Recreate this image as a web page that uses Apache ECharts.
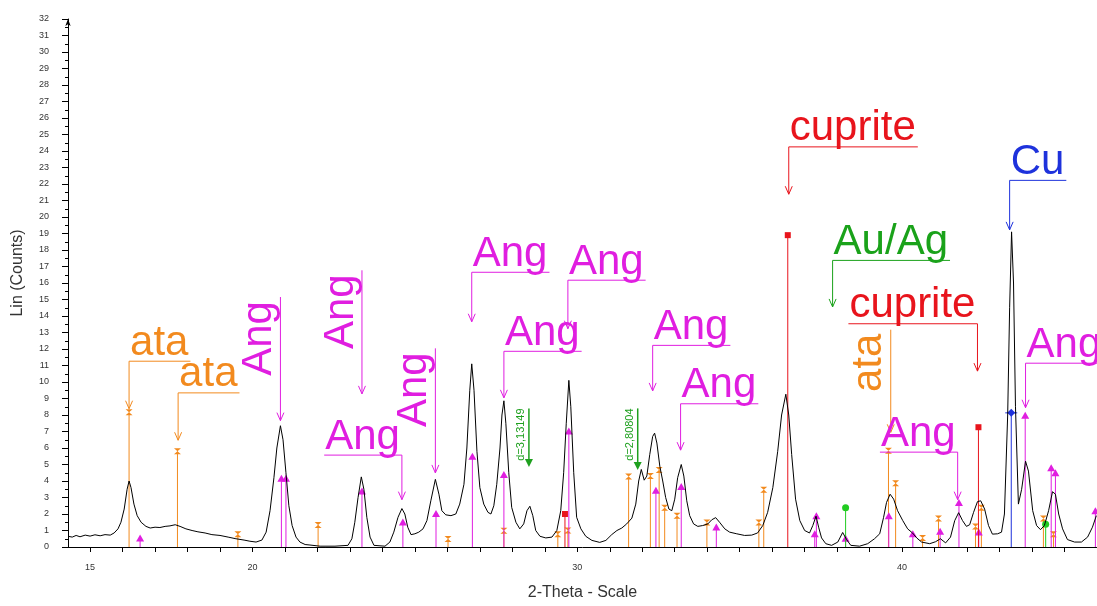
<!DOCTYPE html>
<html lang="en">
<head>
<meta charset="UTF-8">
<title>XRD pattern</title>
<style>
    html, body { margin: 0; padding: 0; background: #fff; }
    #chart { width: 1097px; height: 606px; }
</style>
</head>
<body>
<div id="chart"></div>
<script src="https://cdn.jsdelivr.net/npm/echarts@6.0.0/dist/echarts.min.js"></script>
<script>
    // measured pattern (2-theta, counts)
    const patternX = [14.32, 14.45, 14.57, 14.69, 14.85, 15.00, 15.15, 15.31, 15.46, 15.62, 15.74, 15.86, 15.95, 16.05, 16.14, 16.20, 16.26, 16.35, 16.45, 16.57,
        16.72, 16.85, 17.00, 17.15, 17.31, 17.46, 17.62, 17.77, 17.95, 18.14, 18.32, 18.54, 18.75, 19.00, 19.25, 19.49, 19.74, 19.92, 20.11, 20.29,
        20.42, 20.54, 20.66, 20.75, 20.86, 20.94, 21.03, 21.12, 21.22, 21.34, 21.46, 21.62, 21.77, 22.08, 22.54, 22.94, 23.06, 23.15, 23.25, 23.35,
        23.43, 23.52, 23.62, 23.74, 24.08, 24.23, 24.35, 24.48, 24.60, 24.69, 24.78, 24.88, 25.00, 25.12, 25.25, 25.37, 25.49, 25.63, 25.74, 25.83,
        25.95, 26.11, 26.26, 26.38, 26.51, 26.60, 26.69, 26.75, 26.82, 26.91, 27.00, 27.12, 27.25, 27.34, 27.43, 27.52, 27.62, 27.68, 27.74, 27.80,
        27.89, 27.98, 28.11, 28.23, 28.35, 28.45, 28.54, 28.63, 28.72, 28.85, 29.03, 29.22, 29.37, 29.49, 29.58, 29.66, 29.74, 29.80, 29.89, 29.98,
        30.11, 30.26, 30.45, 30.69, 30.88, 31.06, 31.22, 31.37, 31.52, 31.68, 31.80, 31.89, 31.97, 32.06, 32.14, 32.23, 32.32, 32.38, 32.45, 32.54,
        32.63, 32.72, 32.82, 32.91, 33.00, 33.09, 33.20, 33.28, 33.37, 33.46, 33.58, 33.71, 33.86, 34.02, 34.14, 34.26, 34.38, 34.54, 34.69, 34.91,
        35.15, 35.37, 35.55, 35.71, 35.86, 36.02, 36.17, 36.29, 36.42, 36.51, 36.60, 36.72, 36.85, 37.00, 37.15, 37.25, 37.35, 37.43, 37.52, 37.65,
        37.83, 38.02, 38.17, 38.29, 38.42, 38.69, 38.94, 39.15, 39.31, 39.43, 39.52, 39.63, 39.74, 39.86, 40.02, 40.17, 40.32, 40.45, 40.60, 40.85,
        41.03, 41.18, 41.34, 41.49, 41.62, 41.74, 41.86, 41.98, 42.08, 42.20, 42.32, 42.42, 42.54, 42.66, 42.78, 42.94, 43.06, 43.15, 43.25, 43.31,
        43.37, 43.43, 43.49, 43.58, 43.68, 43.80, 43.89, 44.02, 44.14, 44.26, 44.38, 44.51, 44.63, 44.72, 44.82, 44.94, 45.09, 45.31, 45.52, 45.71,
        45.86, 45.98];
    const patternY = [0.65, 0.60, 0.70, 0.62, 0.72, 0.66, 0.74, 0.68, 0.75, 0.72, 0.85, 1.10, 1.50, 2.30, 3.50, 4.00, 3.60, 2.60, 1.90, 1.50,
        1.25, 1.15, 1.20, 1.18, 1.25, 1.28, 1.35, 1.25, 1.10, 1.00, 0.92, 0.85, 0.75, 0.70, 0.60, 0.50, 0.42, 0.35, 0.30, 0.42,
        0.90, 2.20, 4.20, 6.00, 7.35, 6.50, 4.50, 2.50, 1.30, 0.60, 0.30, 0.15, 0.12, 0.05, 0.05, 0.10, 0.50, 1.50, 3.00, 4.25,
        3.50, 1.80, 0.60, 0.10, 0.05, 0.30, 0.90, 1.80, 2.33, 2.00, 1.20, 0.75, 0.80, 0.90, 1.10, 1.60, 2.80, 4.10, 3.20, 2.20,
        1.95, 1.90, 2.00, 2.60, 3.80, 6.00, 9.50, 11.10, 9.50, 5.80, 3.60, 2.60, 2.10, 2.00, 2.50, 3.80, 6.00, 8.00, 8.86, 7.50,
        4.50, 2.40, 1.50, 1.10, 1.40, 2.20, 2.47, 1.90, 1.00, 0.65, 0.55, 0.60, 1.00, 2.20, 4.50, 7.50, 10.10, 8.50, 4.50, 1.80,
        1.10, 0.65, 0.40, 0.28, 0.40, 0.75, 1.00, 1.15, 1.40, 1.75, 2.60, 4.00, 4.70, 4.05, 4.30, 5.60, 6.70, 6.90, 6.30, 4.90,
        4.00, 3.00, 2.30, 2.20, 2.90, 4.20, 5.00, 4.30, 2.80, 1.90, 1.40, 1.25, 1.30, 1.40, 1.65, 1.78, 1.50, 1.10, 0.90, 0.80,
        0.70, 0.72, 0.85, 1.30, 2.10, 3.60, 5.80, 8.00, 9.26, 8.00, 5.60, 2.90, 1.60, 1.00, 0.85, 1.30, 1.87, 1.20, 0.55, 0.20,
        0.10, 0.30, 0.88, 0.45, 0.10, 0.05, 0.20, 0.50, 0.80, 1.80, 2.70, 3.20, 2.90, 2.20, 1.60, 1.10, 0.85, 0.55, 0.30, 0.20,
        0.32, 0.50, 0.25, 0.60, 1.60, 2.08, 1.60, 1.25, 1.35, 2.10, 2.75, 2.80, 2.30, 1.30, 0.78, 0.80, 0.90, 2.00, 8.00, 14.50,
        19.10, 16.00, 8.50, 2.60, 3.50, 5.20, 4.60, 2.20, 1.30, 1.05, 1.30, 2.20, 3.35, 3.20, 2.00, 1.10, 0.45, 0.30, 0.30, 0.60,
        1.20, 1.90];

    // reference sticks per phase
    const ataPos = [16.20, 17.69, 19.55, 22.02, 26.02, 27.74, 29.40, 29.71, 31.58, 32.25, 32.52, 32.69, 33.07, 33.99, 35.59, 35.74, 39.58, 39.80, 40.63, 41.12, 42.26, 42.44, 44.35, 44.66];
    const ataInt = [8.16, 5.80, 0.78, 1.34, 0.48, 0.98, 0.78, 1.00, 4.27, 4.30, 4.67, 2.38, 1.90, 1.48, 1.48, 3.47, 5.83, 3.87, 0.54, 1.72, 1.24, 2.38, 1.72, 0.78];
    const angPos = [16.54, 20.89, 21.03, 23.37, 24.63, 25.65, 26.77, 27.74, 29.74, 32.42, 33.20, 34.28, 37.31, 37.36, 38.26, 39.59, 40.33, 41.17, 41.75, 42.36, 43.79, 44.59, 44.72, 45.95];
    const angInt = [0.52, 4.13, 4.13, 3.37, 1.48, 2.00, 5.47, 4.37, 7.00, 3.41, 3.63, 1.18, 0.78, 1.87, 0.50, 1.87, 0.78, 0.92, 2.67, 0.88, 7.96, 4.77, 4.47, 2.17];
    const cupPos = [29.62, 36.48, 42.35];
    const cupInt = [2.00, 18.90, 7.26];
    const cuPos = [43.36];
    const cuInt = [8.13];
    const auPos = [38.26, 44.42];
    const auInt = [2.38, 1.38];

    // phase labels: text, phase, 2-theta, connector top, arrow tip, layout
    const annLabels = ['ata', 'ata', 'Ang', 'Ang', 'Ang', 'Ang', 'Ang', 'Ang', 'Ang', 'Ang', 'Ang', 'cuprite', 'Au/Ag', 'cuprite', 'ata', 'Ang', 'Cu', 'Ang'];
    const annPhase = ['ata', 'ata', 'Ang', 'Ang', 'Ang', 'Ang', 'Ang', 'Ang', 'Ang', 'Ang', 'Ang', 'cuprite', 'AuAg', 'cuprite', 'ata', 'Ang', 'Cu', 'Ang'];
    const annX = [16.20, 17.71, 20.86, 23.37, 24.60, 25.63, 26.75, 29.71, 27.74, 32.32, 33.18, 36.51, 37.86, 42.32, 39.65, 41.71, 43.31, 43.80];
    const annTop = [11.26, 9.34, 15.15, 16.77, 5.57, 12.04, 16.65, 16.17, 11.86, 12.22, 8.68, 24.25, 17.37, 13.53, 13.17, 5.75, 22.22, 11.14];
    const annTip = [8.38, 6.47, 7.66, 9.28, 2.87, 4.49, 13.65, 13.23, 9.04, 9.46, 5.87, 21.38, 14.55, 10.66, 6.95, 2.87, 19.22, 8.44];
    const annLayout = ['left', 'left', 'up', 'up', 'right', 'up', 'left', 'left', 'left', 'left', 'left', 'left', 'left', 'right', 'up', 'right', 'left', 'left'];

    // d-spacing markers
    const dLabels = ['d=3,13149', 'd=2,80804'];
    const dX = [28.51, 31.86];
    const dTop = [8.40, 8.40];
    const dTip = [4.85, 4.67];

    const xTickLabels = [15, 20, 30, 40];
    const xTicks = [15, 16, 17, 18, 19, 20, 21, 22, 23, 24, 25, 26, 27, 28, 29, 30, 31, 32, 33, 34, 35, 36, 37, 38, 39, 40, 41, 42, 43, 44, 45];

    const colors = {
        ata: "#F28A1E",
        Ang: "#E01EE0",
        cuprite: "#E8141C",
        Cu: "#1E32DC",
        AuAg: "#1AA21A",
        dot: "#22CC22",
        d: "#1EA01E"
    };
    const FONT = '"Liberation Sans", Arial, sans-serif';
    const BIG = 42;

    const ctx = document.createElement("canvas").getContext("2d");
    ctx.font = BIG + "px " + FONT;
    const textW = (s) => ctx.measureText(s).width;

    function marker(shape, x, y, color) {
        if (shape === "hour") {
            return { type: "polygon", shape: { points: [[x - 3.5, y - 3], [x + 3.5, y - 3], [x - 3.5, y + 3], [x + 3.5, y + 3]] }, style: { fill: color } };
        }
        if (shape === "tri") {
            return { type: "polygon", shape: { points: [[x, y - 4], [x + 4, y + 3], [x - 4, y + 3]] }, style: { fill: color } };
        }
        if (shape === "square") {
            return { type: "rect", shape: { x: x - 3, y: y - 3, width: 6, height: 6 }, style: { fill: color } };
        }
        if (shape === "diamond") {
            return {
                type: "group", children: [
                    { type: "line", shape: { x1: x - 6, y1: y, x2: x + 6, y2: y }, style: { stroke: color, lineWidth: 1 } },
                    { type: "polygon", shape: { points: [[x, y - 4], [x + 4, y], [x, y + 4], [x - 4, y]] }, style: { fill: color } }
                ]
            };
        }
        return { type: "circle", shape: { cx: x, cy: y, r: 3.5 }, style: { fill: color } };
    }

    function stickSeries(name, pos, ints, color, shape) {
        return {
            name: name,
            type: "custom",
            z: 2,
            data: pos.map((p, i) => [p, ints[i]]),
            encode: { x: 0, y: 1 },
            renderItem: (params, api) => {
                const top = api.coord([api.value(0), api.value(1)]);
                const base = api.coord([api.value(0), 0]);
                return {
                    type: "group",
                    children: [
                        { type: "line", shape: { x1: base[0], y1: base[1], x2: top[0], y2: top[1] }, style: { stroke: color, lineWidth: 1 } },
                        marker(shape, top[0], top[1], color)
                    ]
                };
            }
        };
    }

    const myChart = echarts.init(document.getElementById("chart"));

    const option = {
        animation: false,
        backgroundColor: "#fff",
        grid: { left: 68, right: 0, top: 19, bottom: 53 },
        xAxis: {
            type: "value",
            min: 14.32,
            max: 46,
            name: "2-Theta - Scale",
            nameLocation: "middle",
            nameGap: 38,
            nameTextStyle: { color: "#333", fontSize: 16, fontFamily: FONT },
            axisLine: { lineStyle: { color: "#000", width: 1 } },
            axisTick: { customValues: xTicks, length: 5, lineStyle: { color: "#000" } },
            axisLabel: { customValues: xTickLabels, margin: 16, fontSize: 9, color: "#333", fontFamily: FONT },
            splitLine: { show: false }
        },
        yAxis: {
            type: "value",
            min: 0,
            max: 32,
            interval: 1,
            name: "Lin (Counts)",
            nameLocation: "middle",
            nameGap: 42,
            nameTextStyle: { color: "#333", fontSize: 16, fontFamily: FONT, padding: [0, 0, 0, 20] },
            axisLine: { show: true, symbol: ["none", "arrow"], symbolSize: [4, 7], lineStyle: { color: "#000", width: 1 } },
            axisTick: { show: true, length: 6, lineStyle: { color: "#000" } },
            minorTick: { show: true, splitNumber: 2, length: 3, lineStyle: { color: "#000" } },
            axisLabel: { margin: 19, fontSize: 9, color: "#333", fontFamily: FONT },
            splitLine: { show: false }
        },
        series: [
            stickSeries("ata", ataPos, ataInt, colors.ata, "hour"),
            stickSeries("Ang", angPos, angInt, colors.Ang, "tri"),
            stickSeries("cuprite", cupPos, cupInt, colors.cuprite, "square"),
            stickSeries("Cu", cuPos, cuInt, colors.Cu, "diamond"),
            stickSeries("Au/Ag", auPos, auInt, colors.dot, "circle"),
            {
                name: "pattern",
                type: "line",
                z: 3,
                showSymbol: false,
                data: patternX.map((x, i) => [x, patternY[i]]),
                lineStyle: { color: "#000", width: 1 }
            },
            {
                name: "d-spacing",
                type: "custom",
                z: 4,
                data: dX.map((x, i) => [x, dTop[i], dTip[i]]),
                encode: { x: 0, y: 1 },
                renderItem: (params, api) => {
                    const p = api.coord([api.value(0), api.value(1)]);
                    const t = api.coord([api.value(0), api.value(2)]);
                    const c = colors.d;
                    return {
                        type: "group",
                        children: [
                            { type: "line", shape: { x1: p[0], y1: p[1], x2: t[0], y2: t[1] - 6 }, style: { stroke: c, lineWidth: 1.5 } },
                            { type: "polygon", shape: { points: [[t[0] - 4, t[1] - 8], [t[0] + 4, t[1] - 8], [t[0], t[1]]] }, style: { fill: c } },
                            {
                                type: "text", x: p[0] - 8, y: p[1], rotation: Math.PI / 2,
                                style: { text: dLabels[params.dataIndex], fill: c, fontSize: 11, fontFamily: FONT, align: "right", verticalAlign: "middle" }
                            }
                        ]
                    };
                }
            },
            {
                name: "phases",
                type: "custom",
                z: 5,
                clip: false,
                data: annX.map((x, i) => [x, annTop[i], annTip[i]]),
                encode: { x: 0, y: 1 },
                renderItem: (params, api) => {
                    const i = params.dataIndex;
                    const p = api.coord([api.value(0), api.value(1)]);
                    const t = api.coord([api.value(0), api.value(2)]);
                    const c = colors[annPhase[i]];
                    const label = annLabels[i];
                    const w = textW(label);
                    const mode = annLayout[i];
                    const children = [
                        { type: "line", shape: { x1: p[0], y1: p[1], x2: t[0], y2: t[1] }, style: { stroke: c, lineWidth: 1 } },
                        { type: "polyline", shape: { points: [[t[0] - 3.5, t[1] - 8], [t[0], t[1]], [t[0] + 3.5, t[1] - 8]] }, style: { stroke: c, fill: null, lineWidth: 1 } }
                    ];
                    if (mode === "up") {
                        children.push({
                            type: "text", x: p[0] - 21, y: p[1] + 4, rotation: Math.PI / 2,
                            style: { text: label, fill: c, fontSize: BIG, fontFamily: FONT, align: "right", verticalAlign: "middle" }
                        });
                    } else {
                        const left = mode === "left";
                        const x0 = left ? p[0] : p[0] - w - 3;
                        const x1 = left ? p[0] + w + 3 : p[0];
                        children.push({ type: "line", shape: { x1: x0, y1: p[1], x2: x1, y2: p[1] }, style: { stroke: c, lineWidth: 1 } });
                        children.push({
                            type: "text", x: left ? p[0] + 1 : p[0] - 2, y: p[1] + 3,
                            style: { text: label, fill: c, fontSize: BIG, fontFamily: FONT, align: left ? "left" : "right", verticalAlign: "bottom" }
                        });
                    }
                    return { type: "group", children: children };
                }
            }
        ]
    };

    myChart.setOption(option);
</script>
</body>
</html>
